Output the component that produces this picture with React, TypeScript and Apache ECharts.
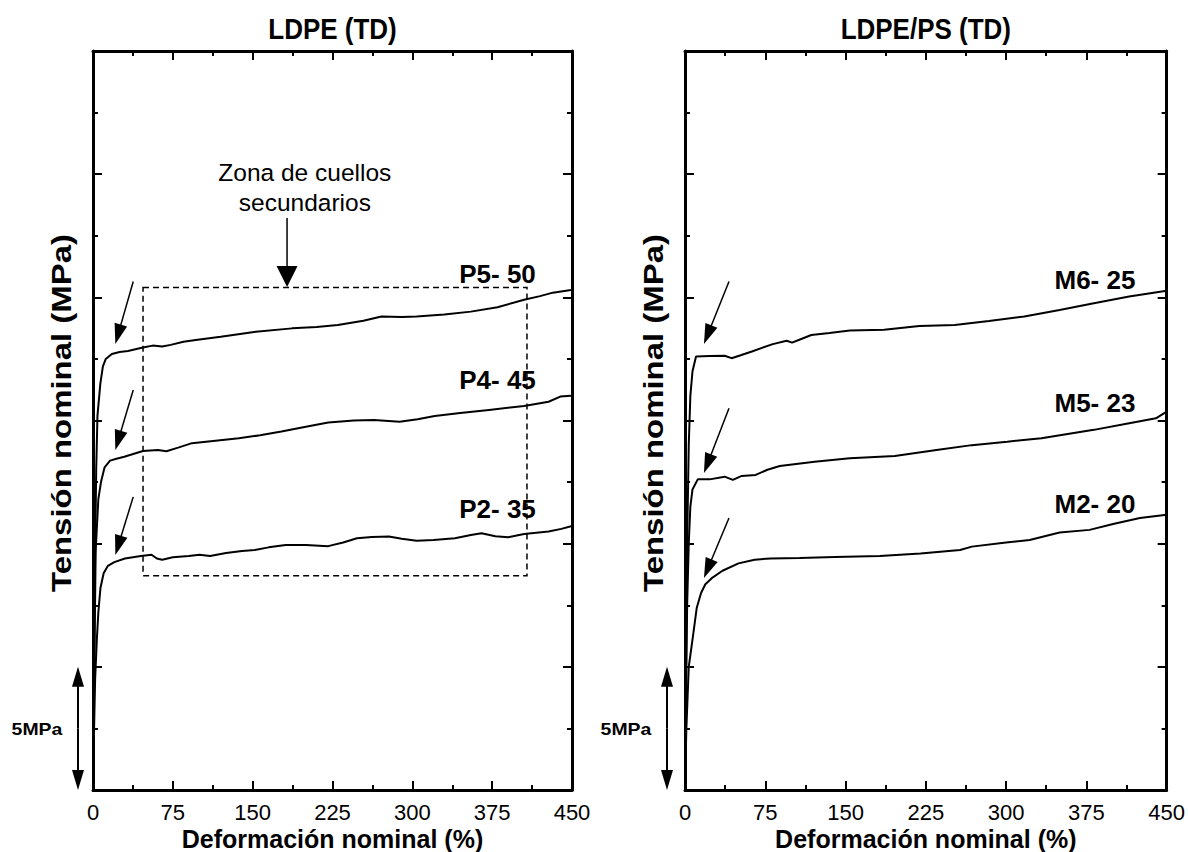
import React, { useEffect, useRef } from "react";
import * as echarts from "echarts";

// ---- Data (strain %, nominal stress MPa) ----
const xTicks = [0, 75, 150, 225, 300, 375, 450];

const P5_50 = [[0,0],[1,5],[2,9.5],[3,13],[4.2,15.2],[6.9,16.5],[9.3,17.2],[12,17.5],[17.7,17.7],[25,17.78],[32.8,17.82],[46.9,17.96],[56,18.04],[65,18.0],[73,18.07],[85,18.2],[96.5,18.27],[120,18.4],[153,18.6],[187,18.74],[210,18.8],[230,18.88],[254,19.05],[271,19.22],[290,19.2],[304,19.22],[330,19.3],[355,19.42],[380,19.6],[405,19.9],[420,20.05],[432,20.19],[449,20.3]];
const P4_45 = [[0,0],[1,4],[2.5,9.7],[5,11.8],[7.5,12.5],[10.9,13.1],[16,13.37],[22,13.45],[29.4,13.53],[46.9,13.76],[61,13.8],[69,13.75],[80,13.9],[93,14.08],[115,14.18],[137,14.28],[157,14.4],[177,14.55],[200,14.75],[221,14.92],[245,15.0],[264,15.02],[288,14.95],[305,15.05],[321,15.18],[345,15.3],[372,15.43],[405,15.59],[428,15.76],[439,15.97],[449,16.0]];
const P2_35 = [[0,0],[1,2.5],[2,4.5],[3.6,6.1],[5,7.2],[7,8.2],[10,8.8],[14,9.1],[20,9.25],[30,9.4],[45,9.5],[55,9.55],[60,9.4],[65,9.35],[75,9.45],[90,9.5],[100,9.55],[110,9.5],[125,9.62],[140,9.7],[152,9.74],[165,9.85],[181,9.95],[200,9.95],[221,9.9],[235,10.05],[248,10.22],[262,10.27],[278,10.29],[290,10.2],[304,10.12],[320,10.15],[340,10.22],[355,10.35],[365,10.42],[378,10.3],[390,10.26],[405,10.39],[428,10.49],[440,10.6],[450,10.72]];

const M6_25 = [[0,0],[1,5],[2,10],[3.5,14],[5,16],[7,17],[10.3,17.6],[23,17.62],[37,17.63],[43.5,17.53],[52,17.65],[62.5,17.8],[72,17.95],[82,18.1],[95,18.24],[100,18.16],[108,18.3],[118,18.47],[135,18.55],[154,18.65],[186,18.68],[219,18.84],[252,18.88],[284,19.04],[317,19.22],[350,19.49],[382,19.76],[415,20.03],[450,20.27]];
const M5_23 = [[0,0],[1,4],[2,7.5],[3.5,10],[5,11.5],[7,12.2],[11.9,12.61],[23,12.61],[37,12.72],[44.7,12.59],[53,12.75],[66,12.79],[77,13.0],[88.6,13.15],[121,13.33],[154,13.47],[196,13.56],[235,13.8],[268,14.0],[301,14.14],[333,14.28],[382,14.62],[415,14.89],[440,15.09],[450,15.36]];
const M2_20 = [[0,0],[1.2,2.4],[3.5,5.0],[7,6.1],[11,7.4],[15,8.0],[19,8.35],[25,8.6],[35,8.9],[50,9.2],[65,9.35],[80,9.4],[107,9.42],[140,9.46],[182,9.5],[220,9.6],[257,9.74],[268,9.88],[300,10.05],[322,10.15],[350,10.45],[378,10.56],[400,10.8],[425,11.04],[450,11.17]];

const leftTitle = "LDPE (TD)";
const rightTitle = "LDPE/PS (TD)";
const yTitle = "Tensión nominal (MPa)";
const xTitle = "Deformación nominal (%)";

// labels: [text, strain, MPa]
const leftLabels: [string, number, number][] = [["P5- 50", 380, 20.95], ["P4- 45", 380, 16.65], ["P2- 35", 380, 11.4]];
const rightLabels: [string, number, number][] = [["M6- 25", 383, 20.7], ["M5- 23", 383, 15.7], ["M2- 20", 383, 11.6]];
// knee arrows [fromStrain, fromMPa, toStrain, toMPa]
const leftArrows = [[37.8, 20.64, 21.0, 18.11], [37.8, 16.24, 21.0, 13.8], [37.8, 11.9, 21.0, 9.54]];
const rightArrows = [[41.1, 20.64, 17.7, 18.11], [41.1, 15.5, 17.7, 12.87], [41.1, 11.04, 17.7, 8.61]];

const FONT = "Arial, 'Liberation Sans', Helvetica, sans-serif";

export default function App() {
  const ref = useRef<HTMLDivElement>(null);
  useEffect(() => {
    const chart = echarts.init(ref.current!, null, { renderer: "svg", width: 1188, height: 852 });
    const lineW = 3;
    const mkX = (gi: number, pos: string) => ({
      type: "value", gridIndex: gi, min: 0, max: 450, interval: 75, position: pos,
      axisLine: { show: true, onZero: false, lineStyle: { color: "#000", width: lineW } },
      axisTick: { show: true, inside: true, length: 9, lineStyle: { width: 2, color: "#000" } },
      minorTick: { show: true, splitNumber: 2, length: 5, lineStyle: { width: 2, color: "#000" } },
      axisLabel: { show: pos === "bottom", color: "#000", fontSize: 22, fontFamily: FONT, margin: 11, showMinLabel: true, showMaxLabel: true },
      splitLine: { show: false }, minorSplitLine: { show: false },
    });
    const mkY = (gi: number, pos: string) => ({
      type: "value", gridIndex: gi, min: 0, max: 30, interval: 5, position: pos,
      axisLine: { show: true, onZero: false, lineStyle: { color: "#000", width: lineW } },
      axisTick: { show: true, inside: true, length: 9, lineStyle: { width: 2, color: "#000" } },
      minorTick: { show: true, splitNumber: 2, length: 5, lineStyle: { width: 2, color: "#000" } },
      axisLabel: { show: false },
      splitLine: { show: false }, minorSplitLine: { show: false },
    });
    const mkS = (data: number[][], xi: number, yi: number) => ({
      type: "line", xAxisIndex: xi, yAxisIndex: yi, data, showSymbol: false, symbol: "none",
      lineStyle: { color: "#000", width: 2 }, silent: true,
    });
    const option: any = {
      animation: false,
      backgroundColor: "#fff",
      grid: [
        { left: 93, top: 51, width: 479, height: 739 },
        { left: 685, top: 51, width: 482, height: 739 },
      ],
      xAxis: [mkX(0, "bottom"), mkX(0, "top"), mkX(1, "bottom"), mkX(1, "top")],
      yAxis: [mkY(0, "left"), mkY(0, "right"), mkY(1, "left"), mkY(1, "right")],
      series: [
        mkS(P5_50, 0, 0), mkS(P4_45, 0, 0), mkS(P2_35, 0, 0),
        mkS(M6_25, 2, 2), mkS(M5_23, 2, 2), mkS(M2_20, 2, 2),
      ],
    };
    chart.setOption(option);

    const px = (g: number, p: number[]) =>
      chart.convertToPixel({ xAxisIndex: g * 2, yAxisIndex: g * 2 }, p) as number[];

    const els: any[] = [];
    const txt = (text: string, x: number, y: number, size: number, bold: boolean, extra: any = {}) => {
      els.push({
        type: "text", x, y, silent: true, ...extra,
        style: { text, fill: "#000", fontSize: size, fontWeight: bold ? "bold" : "normal", fontFamily: FONT,
          align: "center", verticalAlign: "middle", textAlign: "center", textVerticalAlign: "middle" },
      });
    };
    const arrow = (a: number[], b: number[], headLen: number, headW: number, lw: number) => {
      const dx = b[0] - a[0], dy = b[1] - a[1];
      const L = Math.sqrt(dx * dx + dy * dy);
      const ux = dx / L, uy = dy / L;
      const bx = b[0] - ux * headLen, by = b[1] - uy * headLen;
      els.push({ type: "line", silent: true, shape: { x1: a[0], y1: a[1], x2: bx + ux * 2, y2: by + uy * 2 }, style: { stroke: "#000", lineWidth: lw } });
      els.push({ type: "polygon", silent: true, shape: { points: [[b[0], b[1]], [bx - uy * headW / 2, by + ux * headW / 2], [bx + uy * headW / 2, by - ux * headW / 2]] }, style: { fill: "#000" } });
    };

    const grids = [
      { g: 0, title: leftTitle, labels: leftLabels, arrows: leftArrows },
      { g: 1, title: rightTitle, labels: rightLabels, arrows: rightArrows },
    ];
    grids.forEach(({ g, title, labels, arrows }) => {
      const o = px(g, [0, 0]);
      const e = px(g, [450, 30]);
      const cx = (o[0] + e[0]) / 2;
      txt(title, cx, 29, 26, true, { scaleY: 1.12 });
      txt(xTitle, cx, 839, 25, true);
      txt(yTitle, o[0] - 32, 413, 27, true, { rotation: Math.PI / 2, scaleX: 1.22, scaleY: 1.05 });
      labels.forEach(([t, sx, sy]) => { const p = px(g, [sx, sy]); txt(t, p[0], p[1], 26, true); });
      arrows.forEach(([x1, y1, x2, y2]) => arrow(px(g, [x1, y1]), px(g, [x2, y2]), 20, 13, 1.5));
      // 5 MPa scale bar
      const y0 = px(g, [0, 0])[1], y5 = px(g, [0, 5])[1];
      const ax = o[0] - (g === 0 ? 15 : 18);
      arrow([ax, (y0 + y5) / 2], [ax, y5], 20, 12, 2);
      arrow([ax, (y0 + y5) / 2], [ax, y0], 20, 12, 2);
      txt("5MPa", ax - 41, (y0 + y5) / 2 + 1, 18, true, { scaleX: 1.08, scaleY: 0.95 });
    });

    // zone of secondary necks (left panel)
    const r1 = px(0, [47, 20.4]);
    const r2 = px(0, [407.7, 8.7]);
    els.push({ type: "rect", silent: true, shape: { x: r1[0], y: r1[1], width: r2[0] - r1[0], height: r2[1] - r1[1] },
      style: { fill: "none", stroke: "#000", lineWidth: 1.5, lineDash: [6, 4] } });
    arrow(px(0, [182.3, 23.22]), px(0, [182.3, 20.42]), 21, 21, 1.5);
    const z1 = px(0, [199, 25.05]);
    const z2 = px(0, [199, 23.87]);
    txt("Zona de cuellos", z1[0], z1[1], 24.5, false);
    txt("secundarios", z2[0], z2[1], 24.5, false);

    chart.setOption({ graphic: { elements: els } });
    return () => chart.dispose();
  }, []);
  return <div ref={ref} style={{ position: "fixed", left: 0, top: 0, width: 1188, height: 852, background: "#fff" }} />;
}
